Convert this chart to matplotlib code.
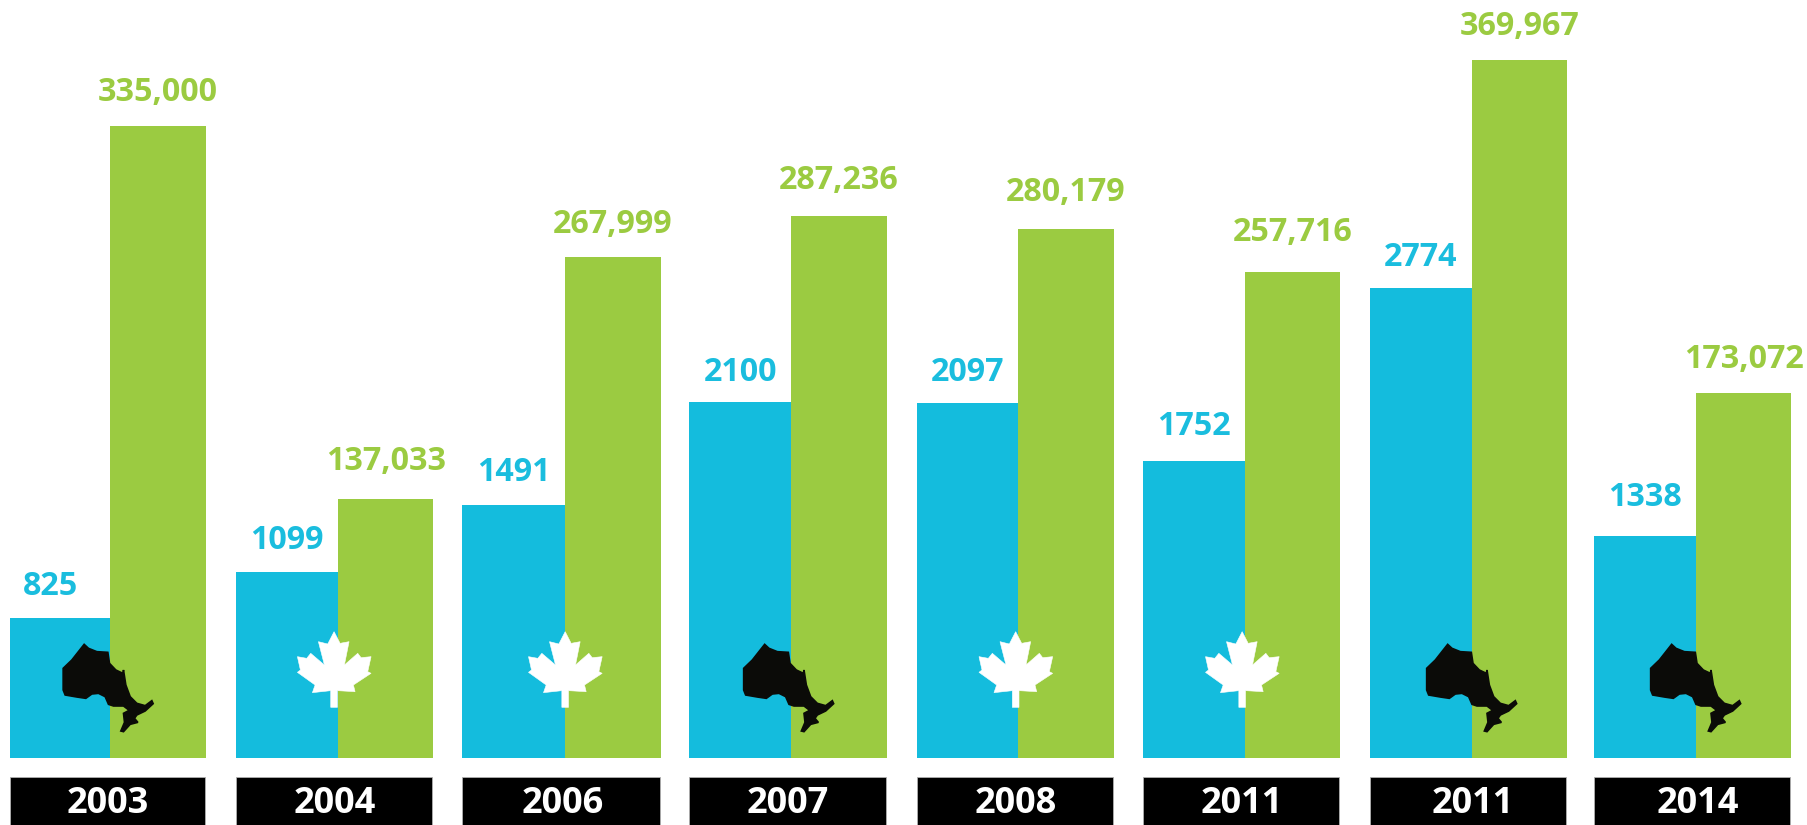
import matplotlib
matplotlib.use("Agg")
import matplotlib.pyplot as plt
from matplotlib.path import Path
from matplotlib.patches import PathPatch, Rectangle

# ---- data ----
years = ["2003", "2004", "2006", "2007", "2008", "2011", "2011", "2014"]
blue_values = [825, 1099, 1491, 2100, 2097, 1752, 2774, 1310]
green_values = [335000, 137033, 265500, 287236, 280179, 257716, 369967, 193500]
blue_labels = ["825", "1099", "1491", "2100", "2097", "1752", "2774", "1338"]
green_labels = ["335,000", "137,033", "267,999", "287,236", "280,179", "257,716", "369,967", "173,072"]
icons = ["ontario", "leaf", "leaf", "ontario", "leaf", "leaf", "ontario", "ontario"]

# ---- layout (pixels) ----
W, H = 1808, 825
BASE = 758
BLUE_SCALE = 0.1695
GREEN_SCALE = 0.001887
lefts = [10, 236, 462.4, 689.5, 916.6, 1142.6, 1369.8, 1594]
splits = [110.5, 338.4, 565, 791, 1018, 1245, 1472, 1696]
rights = [206, 433, 660.6, 886.7, 1113.8, 1340, 1567, 1790.7]
blue_dx = [-10, 0, 0, 0, 0, 0, 0, 0]
blue_dy = [32, 31, 33, 30, 30, 35, 30, 38]
green_dx = [0, 0, 0, 0, 0, 0, 0, 1]
green_dy = [33, 38, 33, 35, 36.5, 39, 33, 33]
icon_dx = [0, 0, 4.5, 0, 2, 1.5, 2, 2]
year_dx = [0, 0, 1, 0, 1, 0, 4, 5]

BLUE, GREEN = "#14BCDD", "#9BCB41"
plt.rcParams["font.family"] = ["Open Sans", "DejaVu Sans"]

ONTARIO = [(87,28),(100,40),(125,50),(158,52),(163,85),(182,105),(203,115),(205,105),(212,150),
           (225,185),(245,205),(270,212),(290,197),(294,206),(270,228),(245,240),(238,250),
           (248,262),(225,268),(205,290),(197,288),(208,262),(205,235),(222,226),(205,213),(175,213),
           (160,208),(150,185),(130,175),(110,177),(92,190),(65,186),(30,180),(24,165),(24,100),(50,75)]
LEAF = [(147,35),(165,70),(192,65),(178,135),(218,100),(228,113),(258,110),(248,155),(258,160),
        (205,195),(210,215),(157,212),(157,262),(137,262),(137,212),(82,218),(90,195),(37,157),
        (46,150),(37,110),(65,115),(77,100),(118,135),(100,65),(128,72)]

fig = plt.figure(figsize=(W / 100, H / 100), dpi=100, facecolor="white")
ax_blue = fig.add_axes([0, 0, 1, 1])
ax_blue.set_xlim(0, W)
ax_blue.set_ylim(-(H - BASE) / BLUE_SCALE, BASE / BLUE_SCALE)
ax_green = ax_blue.twinx()
ax_green.set_ylim(-(H - BASE) / GREEN_SCALE, BASE / GREEN_SCALE)
ax_px = fig.add_axes([0, 0, 1, 1], zorder=5)
ax_px.set_xlim(0, W)
ax_px.set_ylim(H, 0)
for a in (ax_blue, ax_green, ax_px):
    a.axis("off")
    a.patch.set_alpha(0)


def draw_icon(points, origin_y, split_zoom, boundary, color, lw):
    verts = [(boundary + (x - split_zoom) / 3, origin_y + y / 3) for x, y in points]
    verts.append(verts[0])
    codes = [Path.MOVETO] + [Path.LINETO] * (len(verts) - 2) + [Path.CLOSEPOLY]
    ax_px.add_patch(PathPatch(Path(verts, codes), facecolor=color, edgecolor=color, lw=lw))


for i, year in enumerate(years):
    ax_blue.bar(lefts[i], blue_values[i], splits[i] - lefts[i], align="edge", color=BLUE, lw=0)
    ax_green.bar(splits[i], green_values[i], rights[i] - splits[i], align="edge", color=GREEN, lw=0)
    ax_blue.annotate(blue_labels[i], ((lefts[i] + splits[i]) / 2, blue_values[i]),
                     xytext=(blue_dx[i], blue_dy[i]), textcoords="offset pixels",
                     ha="center", va="center", color="#1ABDDE", fontsize=23.2, fontweight="bold")
    ax_green.annotate(green_labels[i], ((splits[i] + rights[i]) / 2, green_values[i]),
                      xytext=(green_dx[i], green_dy[i]), textcoords="offset pixels",
                      ha="center", va="center", color="#9BCB41", fontsize=23.2, fontweight="bold")
    ax_px.add_patch(Rectangle((lefts[i], 777), rights[i] - lefts[i] - 0.5, H - 777,
                              facecolor="black", edgecolor="#B0B0B0", lw=0.6))
    ax_px.text((lefts[i] + rights[i]) / 2 + year_dx[i], 804, year, color="white", ha="center", va="center",
               fontsize=26, fontweight="bold")
    if icons[i] == "ontario":
        draw_icon(ONTARIO, 635, 166, splits[i] + icon_dx[i], "#0B0B08", 1.2)
    else:
        draw_icon(LEAF, 620, 160, splits[i] + icon_dx[i], "white", 0.4)

fig.savefig("out.png", dpi=100, facecolor="white")
